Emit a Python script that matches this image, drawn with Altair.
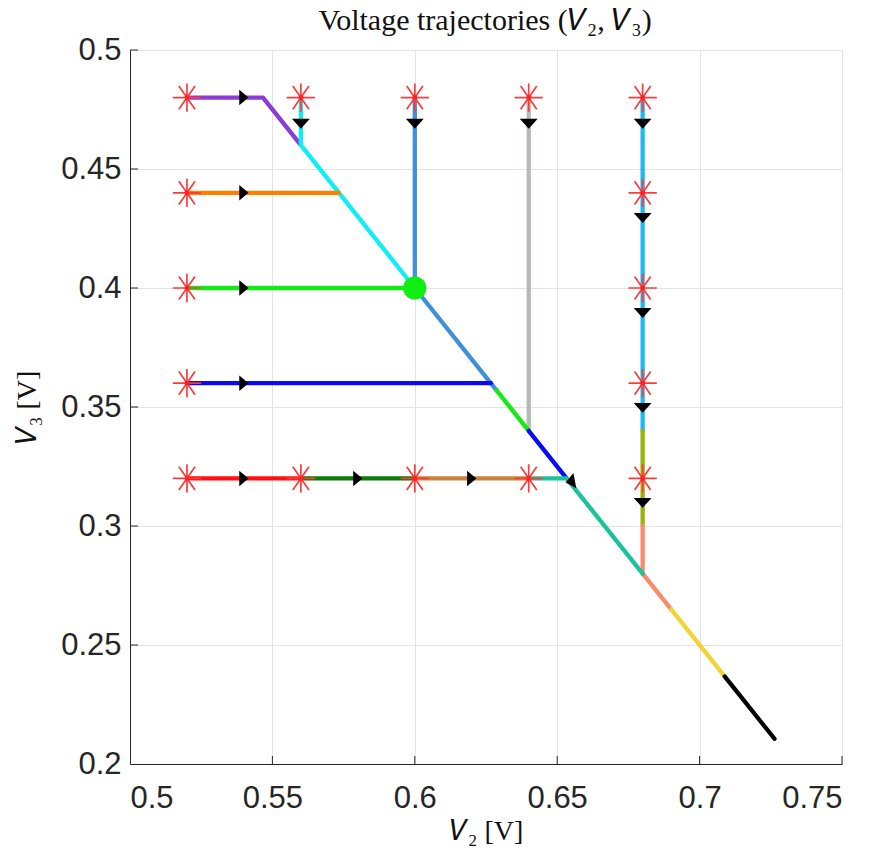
import altair as alt
import pandas as pd

# ---------------- data ----------------
chart_title = ["Voltage trajectories (𝑉₂, 𝑉₃)"]
x_ticks = [0.5, 0.55, 0.6, 0.65, 0.7, 0.75]
y_ticks = [0.2, 0.25, 0.3, 0.35, 0.4, 0.45, 0.5]

# visible trajectory pieces (drawn in this order)
seg_colors = [
    "#B2BDB2",  # x=0.64 vertical (grey)
    "#1EB9F0",  # x=0.68 upper vertical (sky blue)
    "#9CB10A",  # x=0.68 olive
    "#FA8C6C",  # salmon
    "#F3D33A",  # yellow
    "#000000",  # black tail
    "#8A3BD8",  # purple (start 0.52, 0.48)
    "#10EEF5",  # cyan (start 0.56, 0.48)
    "#FF8000",  # orange (start 0.52, 0.44)
    "#3F8FDB",  # steel blue (start 0.60, 0.48)
    "#14EB14",  # lime (start 0.52, 0.40)
    "#14EB14",  # lime diagonal piece
    "#0A0AF5",  # blue (start 0.52, 0.36)
    "#0A0AF5",  # blue diagonal piece
    "#FF1010",  # red (start 0.52, 0.32)
    "#0B7D0B",  # dark green (start 0.56, 0.32)
    "#C8843C",  # brown (start 0.60, 0.32)
    "#1CC39A",  # teal (start 0.64, 0.32)
]
seg_x = [
    [0.64, 0.64],
    [0.68, 0.68],
    [0.68, 0.68],
    [0.68, 0.68, 0.6901],
    [0.6901, 0.7088],
    [0.7088, 0.7263],
    [0.52, 0.5467, 0.56],
    [0.56, 0.56, 0.60],
    [0.52, 0.5733],
    [0.60, 0.60, 0.6287],
    [0.52, 0.60],
    [0.6287, 0.64],
    [0.52, 0.6267],
    [0.64, 0.6533],
    [0.52, 0.56],
    [0.56, 0.60],
    [0.60, 0.64],
    [0.64, 0.6533, 0.68],
]
seg_y = [
    [0.48, 0.34],
    [0.48, 0.34],
    [0.34, 0.30],
    [0.30, 0.28, 0.2649],
    [0.2649, 0.2368],
    [0.2368, 0.2106],
    [0.48, 0.48, 0.46],
    [0.48, 0.46, 0.40],
    [0.44, 0.44],
    [0.48, 0.40, 0.357],
    [0.40, 0.40],
    [0.357, 0.34],
    [0.36, 0.36],
    [0.34, 0.32],
    [0.32, 0.32],
    [0.32, 0.32],
    [0.32, 0.32],
    [0.32, 0.32, 0.28],
]

star_x = [0.52, 0.56, 0.60, 0.64, 0.68, 0.52, 0.68, 0.52, 0.68, 0.52, 0.68,
          0.52, 0.56, 0.60, 0.64, 0.68]
star_y = [0.48, 0.48, 0.48, 0.48, 0.48, 0.44, 0.44, 0.40, 0.40, 0.36, 0.36,
          0.32, 0.32, 0.32, 0.32, 0.32]

right_arrow_x = [0.54, 0.54, 0.54, 0.54, 0.54, 0.58, 0.62]
right_arrow_y = [0.48, 0.44, 0.40, 0.36, 0.32, 0.32, 0.32]

down_arrow_x = [0.56, 0.60, 0.64, 0.68, 0.68, 0.68, 0.68, 0.68]
down_arrow_y = [0.469, 0.469, 0.469, 0.469, 0.4294, 0.3895, 0.3496, 0.3097]

diag_arrow_x = [0.6546]
diag_arrow_y = [0.3187]

dot_x = [0.6]
dot_y = [0.4]

# ---------------- tables ----------------
rows = []
for i, (c, xs, ys) in enumerate(zip(seg_colors, seg_x, seg_y)):
    for j, (xv, yv) in enumerate(zip(xs, ys)):
        rows.append({"seg": f"s{i:02d}", "k": j, "x": xv, "y": yv, "c": c})
seg_df = pd.DataFrame(rows)
star_df = pd.DataFrame({"x": star_x, "y": star_y})
ra_df = pd.DataFrame({"x": right_arrow_x, "y": right_arrow_y})
da_df = pd.DataFrame({"x": down_arrow_x, "y": down_arrow_y})
dg_df = pd.DataFrame({"x": diag_arrow_x, "y": diag_arrow_y})
dot_df = pd.DataFrame({"x": dot_x, "y": dot_y})
xt_df = pd.DataFrame({"x": x_ticks[1:]})
yt_df = pd.DataFrame({"y": y_ticks[1:]})
title_df = pd.DataFrame({"t": chart_title})

W, H = 712, 714
SERIF = "Liberation Serif"
SANS = "Liberation Sans"

xscale = alt.Scale(domain=[0.5, 0.75], nice=False, zero=False)
yscale = alt.Scale(domain=[0.2, 0.5], nice=False, zero=False)

X = alt.X("x:Q", scale=xscale, axis=alt.Axis(
    values=x_ticks, format=".2~f", title="𝑉₂ [V]", grid=True,
    labelPadding=19, titlePadding=4))
Y = alt.Y("y:Q", scale=yscale, axis=alt.Axis(
    values=y_ticks, format=".2~f", title="𝑉₃ [V]", grid=True,
    labelPadding=9, titlePadding=19))

lines = alt.Chart(seg_df).mark_line(strokeWidth=4.3, strokeCap="round", strokeJoin="round").encode(
    x=X, y=Y, detail="seg:N", order="k:Q", color=alt.Color("c:N", scale=None)
)

STAR = "M-1,0L1,0M0,-1L0,1M-0.57,-0.82L0.57,0.82M-0.57,0.82L0.57,-0.82"
stars = alt.Chart(star_df).mark_point(shape=STAR, size=800, filled=False,
                                      stroke="#FF3A3A", strokeWidth=1.7, opacity=1).encode(x=X, y=Y)
star_c = alt.Chart(star_df).mark_point(shape="circle", size=22, filled=True,
                                       color="#FF2020", opacity=1).encode(x=X, y=Y)

RIGHT = "M-0.6,-1L0.6,0L-0.6,1Z"
DOWN = "M-1,-0.55L1,-0.55L0,0.55Z"
ra = alt.Chart(ra_df).mark_point(shape=RIGHT, size=240, filled=True, color="black",
                                 opacity=1, strokeWidth=0).encode(x=X, y=Y)
da = alt.Chart(da_df).mark_point(shape=DOWN, size=320, filled=True, color="black",
                                 opacity=1, strokeWidth=0).encode(x=X, y=Y)
dg = alt.Chart(dg_df).mark_point(shape=RIGHT, size=240, filled=True, color="black",
                                 opacity=1, strokeWidth=0, angle=169).encode(x=X, y=Y)
dot = alt.Chart(dot_df).mark_point(shape="circle", size=540, filled=True, color="#11EE11",
                                   opacity=1, strokeWidth=0).encode(x=X, y=Y)

xt = alt.Chart(xt_df).mark_rule(color="#262626", strokeWidth=1).encode(
    x=X, y=alt.value(H), y2=alt.value(H - 8))
yt = alt.Chart(yt_df).mark_rule(color="#262626", strokeWidth=1).encode(
    y=Y, x=alt.value(0), x2=alt.value(8))

title = alt.Chart(title_df).mark_text(
    font=SERIF, fontSize=30, color="#111111", align="center", baseline="alphabetic"
).encode(text="t:N", x=alt.value(355), y=alt.value(-20))

chart = alt.layer(lines, stars, star_c, ra, da, dg, dot, xt, yt, title).properties(
    width=W, height=H,
    autosize=alt.AutoSizeParams(type="none"),
    padding={"left": 130, "top": 50, "right": 38, "bottom": 88},
).configure_view(stroke=None).configure_axis(
    labelFont=SANS, labelFontSize=31, labelColor="#262626",
    titleFont=SERIF, titleFontSize=28, titleFontWeight="normal", titleColor="#111111",
    domainColor="#262626", domainWidth=1, tickSize=0,
    gridColor="#E3E3E3", gridWidth=1,
)

chart.save("out.html", embed_options={"renderer": "svg", "actions": False})
